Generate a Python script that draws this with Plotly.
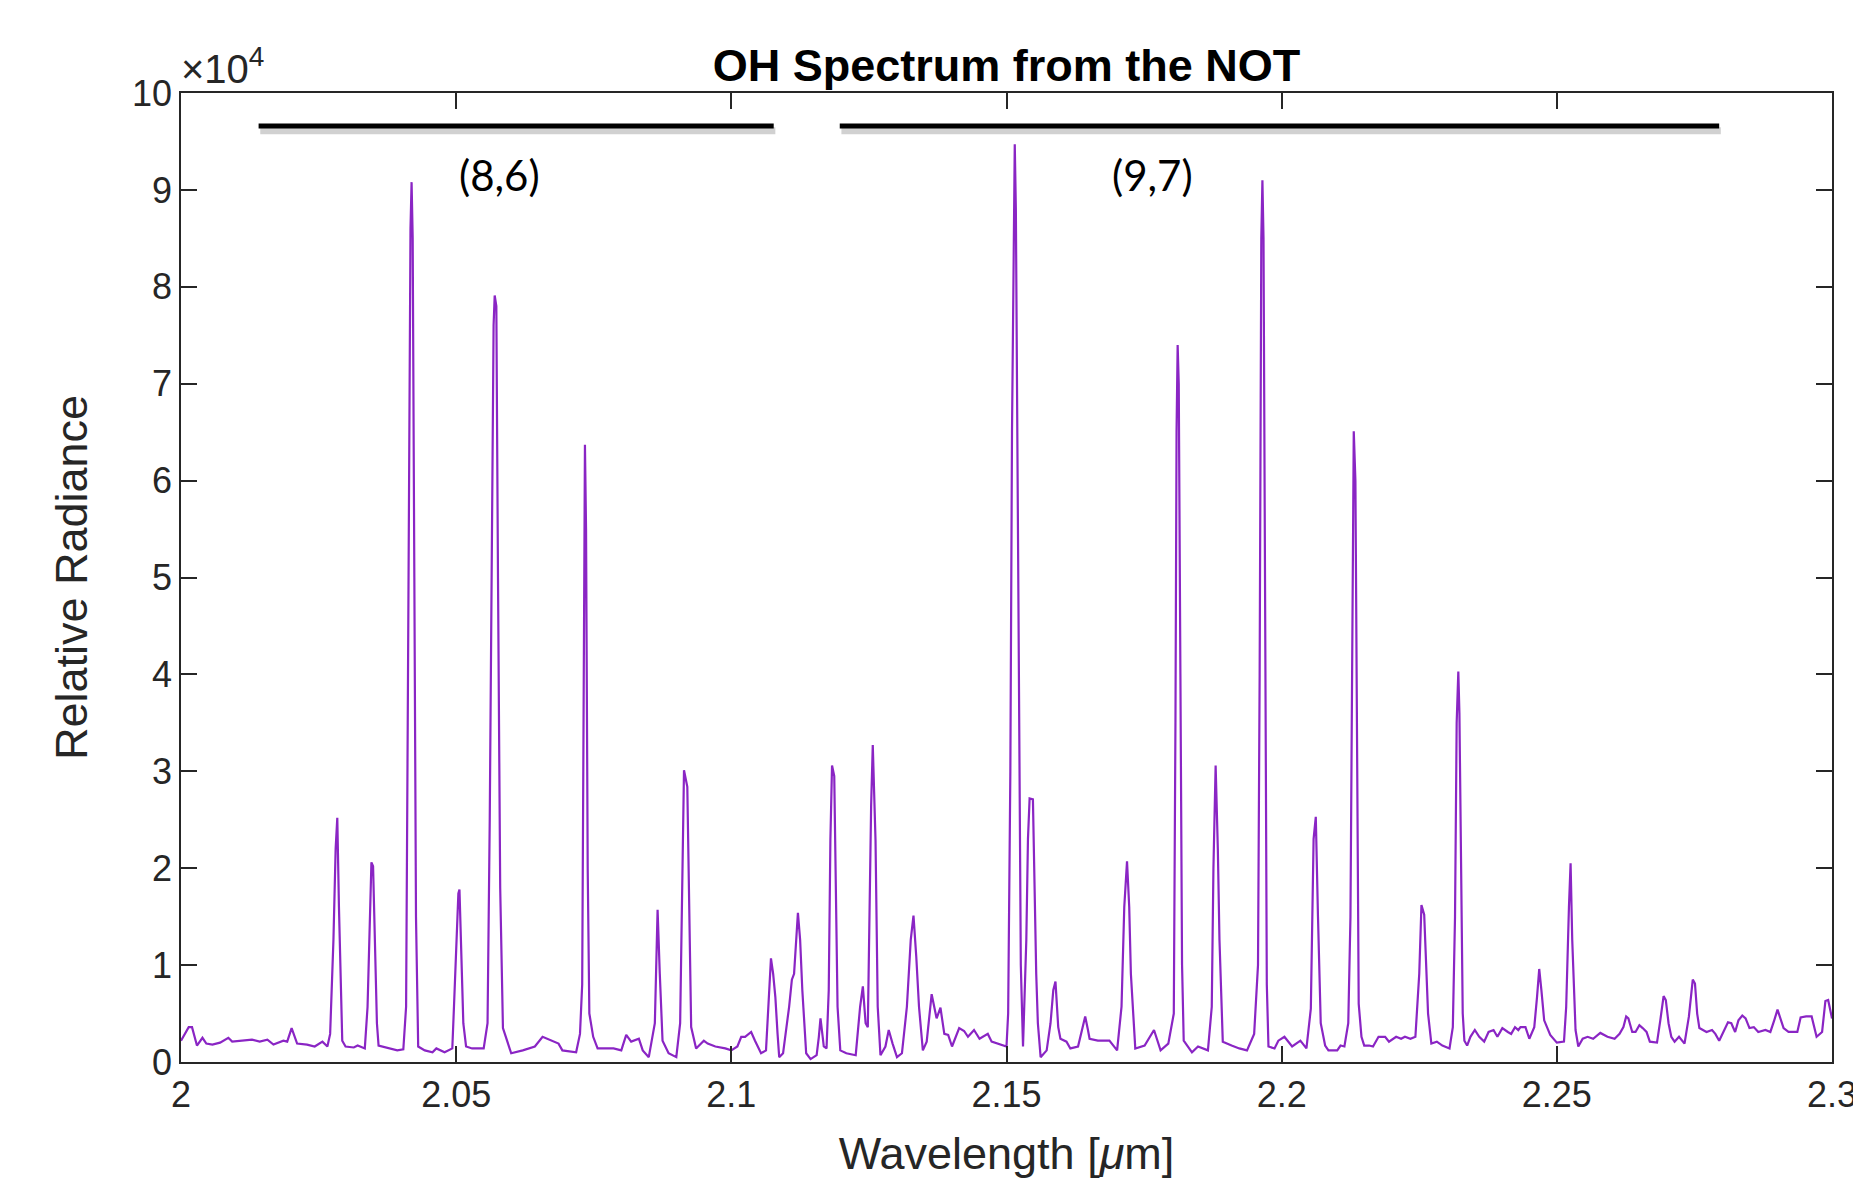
import plotly.graph_objects as go

# ---------------- data ----------------
wavelength_um = [
    2.0000, 2.0014, 2.0020, 2.0025, 2.0029, 2.0039, 2.0046, 2.0057, 2.0071, 2.0086,
    2.0093, 2.0129, 2.0143, 2.0157, 2.0168, 2.0186, 2.0193, 2.0201, 2.0211, 2.0229,
    2.0243, 2.0257, 2.0266, 2.0271, 2.0277, 2.0281, 2.0284, 2.0287, 2.0291, 2.0293,
    2.0299, 2.0314, 2.0321, 2.0334, 2.0339, 2.0343, 2.0346, 2.0349, 2.0352, 2.0356,
    2.0359, 2.0371, 2.0393, 2.0404, 2.0409, 2.0412, 2.0415, 2.0417, 2.0419, 2.0421,
    2.0424, 2.0427, 2.0431, 2.0443, 2.0457, 2.0464, 2.0479, 2.0493, 2.0496, 2.0500,
    2.0504, 2.0506, 2.0509, 2.0513, 2.0518, 2.0529, 2.0550, 2.0557, 2.0561, 2.0565,
    2.0568, 2.0570, 2.0573, 2.0576, 2.0580, 2.0585, 2.0600, 2.0621, 2.0643, 2.0657,
    2.0671, 2.0686, 2.0693, 2.0718, 2.0725, 2.0729, 2.0731, 2.0733, 2.0734, 2.0736,
    2.0739, 2.0742, 2.0749, 2.0757, 2.0786, 2.0800, 2.0809, 2.0818, 2.0832, 2.0839,
    2.0850, 2.0861, 2.0864, 2.0866, 2.0870, 2.0875, 2.0886, 2.0900, 2.0907, 2.0911,
    2.0914, 2.0920, 2.0924, 2.0927, 2.0936, 2.0950, 2.0957, 2.0971, 2.0989, 2.1000,
    2.1011, 2.1018, 2.1025, 2.1036, 2.1043, 2.1054, 2.1063, 2.1067, 2.1072, 2.1076,
    2.1080, 2.1084, 2.1087, 2.1094, 2.1105, 2.1110, 2.1114, 2.1121, 2.1125, 2.1129,
    2.1136, 2.1144, 2.1155, 2.1159, 2.1162, 2.1166, 2.1168, 2.1173, 2.1177, 2.1180,
    2.1183, 2.1187, 2.1190, 2.1193, 2.1198, 2.1209, 2.1226, 2.1234, 2.1239, 2.1244,
    2.1248, 2.1251, 2.1254, 2.1257, 2.1262, 2.1266, 2.1271, 2.1280, 2.1286, 2.1293,
    2.1301, 2.1310, 2.1319, 2.1326, 2.1331, 2.1336, 2.1341, 2.1348, 2.1355, 2.1364,
    2.1368, 2.1373, 2.1380, 2.1387, 2.1394, 2.1401, 2.1414, 2.1423, 2.1430, 2.1441,
    2.1451, 2.1466, 2.1473, 2.1484, 2.1500, 2.1503, 2.1507, 2.1510, 2.1513, 2.1515,
    2.1517, 2.1520, 2.1523, 2.1526, 2.1530, 2.1536, 2.1539, 2.1542, 2.1548, 2.1551,
    2.1554, 2.1557, 2.1562, 2.1573, 2.1580, 2.1585, 2.1589, 2.1594, 2.1598, 2.1609,
    2.1616, 2.1630, 2.1637, 2.1643, 2.1648, 2.1651, 2.1666, 2.1687, 2.1701, 2.1709,
    2.1714, 2.1719, 2.1723, 2.1726, 2.1734, 2.1751, 2.1768, 2.1780, 2.1794, 2.1804,
    2.1807, 2.1809, 2.1811, 2.1813, 2.1816, 2.1819, 2.1822, 2.1837, 2.1848, 2.1866,
    2.1873, 2.1876, 2.1880, 2.1884, 2.1887, 2.1893, 2.1909, 2.1923, 2.1937, 2.1950,
    2.1957, 2.1960, 2.1963, 2.1965, 2.1967, 2.1970, 2.1973, 2.1976, 2.1987, 2.1994,
    2.2005, 2.2019, 2.2034, 2.2045, 2.2053, 2.2058, 2.2062, 2.2066, 2.2071, 2.2079,
    2.2085, 2.2101, 2.2107, 2.2114, 2.2121, 2.2125, 2.2128, 2.2131, 2.2134, 2.2137,
    2.2140, 2.2145, 2.2150, 2.2159, 2.2166, 2.2176, 2.2188, 2.2195, 2.2208, 2.2217,
    2.2224, 2.2234, 2.2243, 2.2250, 2.2254, 2.2259, 2.2263, 2.2266, 2.2272, 2.2282,
    2.2292, 2.2305, 2.2311, 2.2315, 2.2318, 2.2321, 2.2323, 2.2326, 2.2329, 2.2332,
    2.2337, 2.2343, 2.2351, 2.2359, 2.2368, 2.2376, 2.2385, 2.2392, 2.2401, 2.2411,
    2.2417, 2.2424, 2.2430, 2.2434, 2.2443, 2.2450, 2.2459, 2.2464, 2.2468, 2.2472,
    2.2477, 2.2488, 2.2500, 2.2513, 2.2517, 2.2522, 2.2525, 2.2528, 2.2534, 2.2539,
    2.2547, 2.2556, 2.2566, 2.2579, 2.2592, 2.2605, 2.2614, 2.2621, 2.2626, 2.2630,
    2.2637, 2.2643, 2.2650, 2.2656, 2.2663, 2.2669, 2.2682, 2.2688, 2.2694, 2.2698,
    2.2703, 2.2708, 2.2714, 2.2722, 2.2732, 2.2740, 2.2747, 2.2751, 2.2755, 2.2759,
    2.2772, 2.2782, 2.2788, 2.2795, 2.2801, 2.2811, 2.2817, 2.2824, 2.2830, 2.2837,
    2.2843, 2.2850, 2.2858, 2.2866, 2.2879, 2.2888, 2.2895, 2.2901, 2.2912, 2.2921,
    2.2927, 2.2937, 2.2943, 2.2953, 2.2963, 2.2972, 2.2982, 2.2988, 2.2993, 2.3000,
]

# relative radiance in units of 10^4
radiance_e4 = [
    0.22, 0.36, 0.36, 0.24, 0.17, 0.25, 0.19, 0.18, 0.20, 0.25,
    0.21, 0.23, 0.21, 0.23, 0.18, 0.22, 0.21, 0.35, 0.19, 0.18,
    0.16, 0.21, 0.16, 0.29, 1.26, 2.20, 2.52, 1.60, 0.57, 0.22,
    0.16, 0.15, 0.17, 0.14, 0.57, 1.43, 2.06, 2.02, 1.26, 0.40,
    0.17, 0.15, 0.12, 0.13, 0.57, 3.50, 7.00, 8.60, 9.08, 8.50,
    5.00, 1.50, 0.16, 0.12, 0.10, 0.14, 0.10, 0.14, 0.57, 1.26,
    1.74, 1.78, 1.26, 0.40, 0.16, 0.14, 0.14, 0.40, 2.50, 6.00,
    7.60, 7.91, 7.80, 5.00, 1.80, 0.35, 0.09, 0.12, 0.16, 0.26,
    0.23, 0.19, 0.12, 0.10, 0.29, 0.80, 3.00, 5.80, 6.37, 5.50,
    2.00, 0.50, 0.26, 0.14, 0.14, 0.12, 0.28, 0.21, 0.24, 0.12,
    0.05, 0.40, 1.00, 1.57, 0.91, 0.22, 0.09, 0.05, 0.40, 1.80,
    3.01, 2.84, 1.50, 0.36, 0.14, 0.22, 0.19, 0.16, 0.14, 0.12,
    0.16, 0.26, 0.26, 0.31, 0.22, 0.09, 0.12, 0.57, 1.07, 0.91,
    0.67, 0.29, 0.05, 0.09, 0.57, 0.85, 0.91, 1.54, 1.26, 0.74,
    0.09, 0.03, 0.07, 0.26, 0.45, 0.26, 0.16, 0.14, 0.74, 2.29,
    3.06, 2.95, 1.95, 0.57, 0.12, 0.09, 0.07, 0.57, 0.78, 0.40,
    0.36, 1.60, 2.64, 3.27, 2.29, 0.57, 0.07, 0.16, 0.33, 0.19,
    0.05, 0.09, 0.57, 1.26, 1.51, 1.09, 0.57, 0.12, 0.21, 0.70,
    0.57, 0.45, 0.56, 0.29, 0.28, 0.16, 0.35, 0.32, 0.26, 0.33,
    0.24, 0.29, 0.21, 0.19, 0.16, 0.50, 3.00, 6.50, 8.80, 9.47,
    8.80, 6.00, 3.00, 1.00, 0.16, 1.26, 2.30, 2.72, 2.71, 1.80,
    0.91, 0.40, 0.05, 0.12, 0.40, 0.74, 0.83, 0.36, 0.24, 0.21,
    0.14, 0.16, 0.33, 0.47, 0.33, 0.24, 0.22, 0.22, 0.12, 0.57,
    1.60, 2.07, 1.60, 0.91, 0.14, 0.17, 0.33, 0.12, 0.19, 0.50,
    3.50, 6.50, 7.40, 7.00, 4.00, 1.00, 0.22, 0.10, 0.16, 0.12,
    0.57, 2.00, 3.06, 2.20, 1.26, 0.21, 0.17, 0.14, 0.12, 0.29,
    1.00, 4.00, 8.50, 9.10, 8.50, 4.00, 0.80, 0.16, 0.14, 0.22,
    0.26, 0.16, 0.22, 0.14, 0.55, 2.30, 2.53, 1.50, 0.40, 0.17,
    0.12, 0.12, 0.17, 0.16, 0.40, 1.50, 4.50, 6.51, 6.00, 3.00,
    0.60, 0.26, 0.17, 0.17, 0.16, 0.26, 0.26, 0.21, 0.26, 0.24,
    0.26, 0.24, 0.26, 0.91, 1.62, 1.52, 0.91, 0.50, 0.19, 0.21,
    0.17, 0.14, 0.36, 1.50, 3.50, 4.03, 3.60, 1.80, 0.50, 0.22,
    0.17, 0.26, 0.33, 0.26, 0.21, 0.31, 0.33, 0.26, 0.35, 0.31,
    0.29, 0.36, 0.33, 0.36, 0.36, 0.24, 0.36, 0.67, 0.96, 0.74,
    0.43, 0.28, 0.20, 0.21, 0.57, 1.60, 2.05, 1.26, 0.33, 0.16,
    0.24, 0.26, 0.24, 0.30, 0.26, 0.24, 0.29, 0.36, 0.47, 0.45,
    0.31, 0.31, 0.38, 0.35, 0.31, 0.21, 0.20, 0.43, 0.68, 0.64,
    0.40, 0.26, 0.21, 0.26, 0.19, 0.47, 0.85, 0.81, 0.50, 0.35,
    0.31, 0.33, 0.29, 0.22, 0.29, 0.41, 0.40, 0.31, 0.43, 0.48,
    0.45, 0.35, 0.36, 0.31, 0.33, 0.31, 0.43, 0.54, 0.35, 0.31,
    0.31, 0.31, 0.46, 0.47, 0.47, 0.26, 0.31, 0.63, 0.64, 0.45,
]

# band markers: (start, end) wavelengths, label and label position
band_starts = [2.0141, 2.1197]
band_ends = [2.1077, 2.2795]
band_level = 9.66
band_labels = ["(8,6)", "(9,7)"]
band_label_x = [2.0578, 2.1765]
band_label_y = 9.15

x_tickvals = [2.0, 2.05, 2.1, 2.15, 2.2, 2.25, 2.3]
x_ticktext = ["2", "2.05", "2.1", "2.15", "2.2", "2.25", "2.3"]
y_tickvals = [0, 1, 2, 3, 4, 5, 6, 7, 8, 9, 10]
y_ticktext = ["0", "1", "2", "3", "4", "5", "6", "7", "8", "9", "10"]

# ---------------- figure ----------------
AX = "#262626"
FONT = "Liberation Sans, Arial, Helvetica, sans-serif"

fig = go.Figure()
fig.add_trace(go.Scatter(
    x=wavelength_um, y=radiance_e4, mode="lines",
    line=dict(color="#8A25C4", width=2.2),
    showlegend=False, hoverinfo="x+y",
))

shapes = []
for s, e in zip(band_starts, band_ends):
    # soft shadow under the bar
    shapes.append(dict(type="line", xref="x", yref="y",
                       x0=s + 0.0003, x1=e + 0.0003, y0=band_level - 0.05, y1=band_level - 0.05,
                       line=dict(color="rgba(0,0,0,0.18)", width=7), layer="above"))
    shapes.append(dict(type="line", xref="x", yref="y",
                       x0=s, x1=e, y0=band_level, y1=band_level,
                       line=dict(color="black", width=5), layer="above"))

annotations = []
for lbl, lx in zip(band_labels, band_label_x):
    annotations.append(dict(x=lx, y=band_label_y, xref="x", yref="y", text=lbl,
                            showarrow=False, xanchor="center", yanchor="middle",
                            font=dict(family="Lato, Carlito, Calibri, sans-serif", size=42, color="black")))
annotations.append(dict(x=-0.001, y=1.0, xref="paper", yref="paper",
                        text="×10<sup>4</sup>", showarrow=False,
                        xanchor="left", yanchor="bottom",
                        font=dict(family=FONT, size=40, color=AX)))

fig.update_layout(
    width=1861, height=1183,
    margin=dict(l=173, r=28, t=85, b=129, pad=0),
    paper_bgcolor="white", plot_bgcolor="white",
    title=dict(text="<b>OH Spectrum from the NOT</b>", x=0.5, xref="paper",
               y=1 - 57 / 1183, yref="container", xanchor="center", yanchor="middle",
               font=dict(family=FONT, size=45, color="black")),
    shapes=shapes, annotations=annotations,
    font=dict(family=FONT, color=AX),
)

fig.update_xaxes(
    range=[2.0, 2.3], tickvals=x_tickvals, ticktext=x_ticktext,
    ticks="inside", ticklen=16, tickwidth=1.5, tickcolor=AX,
    showline=True, linecolor=AX, linewidth=1.5, mirror="ticks",
    showgrid=False, zeroline=False,
    tickfont=dict(family=FONT, size=36, color=AX),
    ticklabeloverflow="allow",
    title=dict(text="Wavelength [<i>μ</i>m]", font=dict(family=FONT, size=45, color=AX), standoff=24),
)
fig.update_yaxes(
    range=[0, 10], tickvals=y_tickvals, ticktext=y_ticktext,
    ticks="inside", ticklen=16, tickwidth=1.5, tickcolor=AX,
    showline=True, linecolor=AX, linewidth=1.5, mirror="ticks",
    showgrid=False, zeroline=False,
    tickfont=dict(family=FONT, size=36, color=AX),
    title=dict(text="Relative Radiance", font=dict(family=FONT, size=45, color=AX), standoff=30),
)

fig.write_html("out.html")
